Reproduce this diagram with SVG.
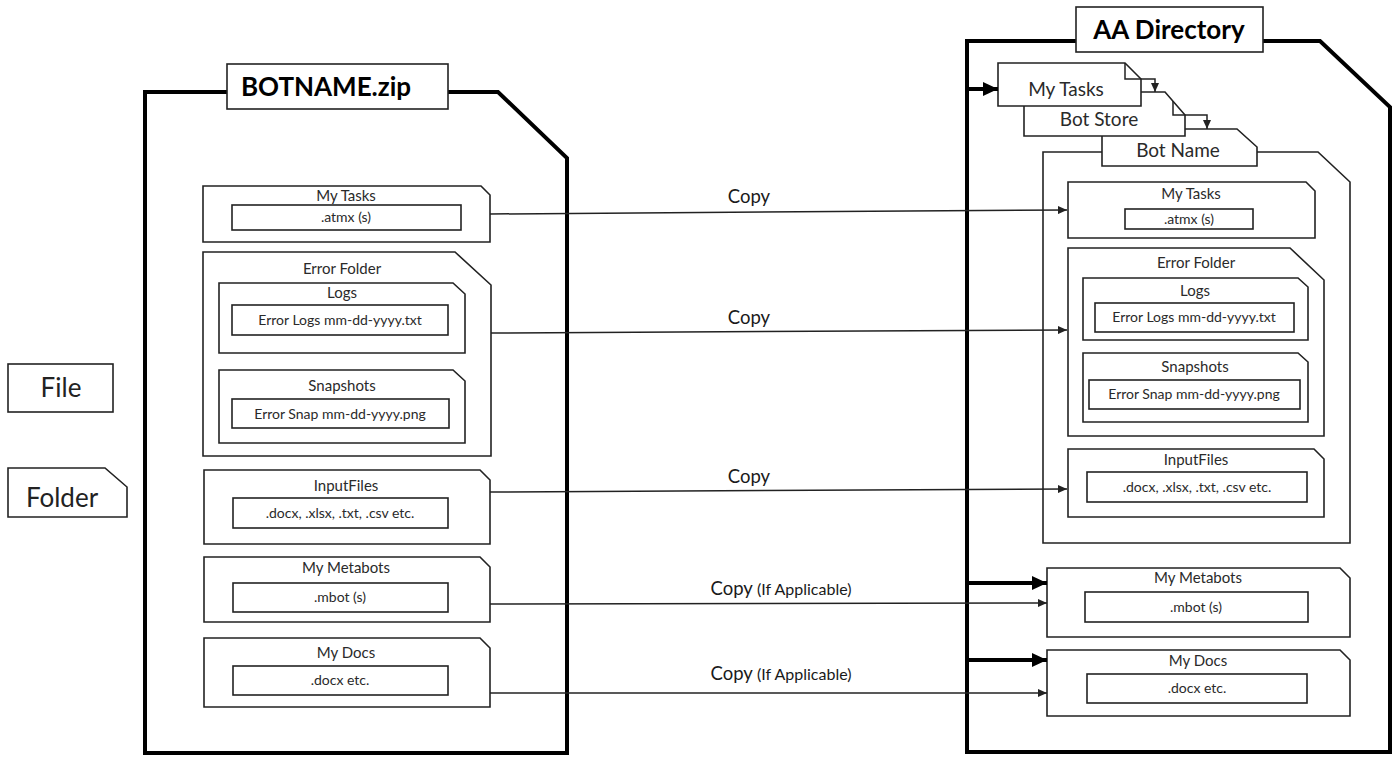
<svg xmlns="http://www.w3.org/2000/svg" width="1400" height="757" viewBox="0 0 1400 757">
<defs>
<style>
.big{fill:#fff;stroke:#000;stroke-width:4;stroke-linejoin:miter}
.fo{fill:#fff;stroke:#222;stroke-width:1.6}
.fi{fill:#fff;stroke:#222;stroke-width:1.6}
.ln{fill:none;stroke:#222;stroke-width:1.5}
.thk{fill:none;stroke:#000;stroke-width:4}
text{font-family:Lato,"Liberation Sans",sans-serif;fill:#2a2a2a;text-anchor:middle}
.t{font-size:15px}
.s{font-size:14px}
.st{font-size:19px}
.h{font-size:26px;font-weight:bold;fill:#000}
.lg{font-size:26px;fill:#222}
.cp{font-size:18.5px;fill:#1a1a1a}
.cps{font-size:16px}
</style>
<marker id="a" markerUnits="userSpaceOnUse" markerWidth="10" markerHeight="8" refX="9" refY="4" orient="auto"><path d="M0,0 L9,4 L0,8 Z" fill="#222"/></marker>
<marker id="ab" markerUnits="userSpaceOnUse" markerWidth="16" markerHeight="14" refX="15" refY="7" orient="auto"><path d="M0,0 L15,7 L0,14 Z" fill="#000"/></marker>
</defs>
<rect width="1400" height="757" fill="#fff"/>

<g id="legend-file"><rect class="fi" x="8" y="364" width="105" height="48"/><text class="lg" x="61" y="397">File</text></g>
<g id="legend-folder"><polygon class="fo" points="8,468 105,468 127,487 127,517 8,517"/><text class="lg" x="62" y="507">Folder</text></g>

<g id="botname-zip">
<path class="big" d="M145,753 V92 H498 L567,158 V753 Z"/>
<rect class="fi" x="227" y="64" width="221" height="45"/>
<text class="h" x="326" y="96">BOTNAME.zip</text>
</g>

<g id="l-mytasks">
<polygon class="fo" points="203,186 481,186 490,195 490,242 203,242"/>
<text class="t" x="346" y="201">My Tasks</text>
<rect class="fi" x="232" y="205" width="229" height="25"/>
<text class="s" x="346" y="222">.atmx (s)</text>
</g>

<g id="l-errorfolder">
<polygon class="fo" points="203,252 455,252 491,285 491,456 203,456"/>
<text class="t" x="342" y="274">Error Folder</text>
<polygon class="fo" points="219,283 453,283 465,294 465,353 219,353"/>
<text class="t" x="342" y="298">Logs</text>
<rect class="fi" x="232" y="305" width="216" height="30"/>
<text class="s" x="340" y="325">Error Logs mm-dd-yyyy.txt</text>
<polygon class="fo" points="219,370 453,370 465,381 465,443 219,443"/>
<text class="t" x="342" y="391">Snapshots</text>
<rect class="fi" x="232" y="399" width="217" height="29"/>
<text class="s" x="340" y="419">Error Snap mm-dd-yyyy.png</text>
</g>

<g id="l-inputfiles">
<polygon class="fo" points="204,470 480,470 490,480 490,544 204,544"/>
<text class="t" x="346" y="491">InputFiles</text>
<rect class="fi" x="233" y="498" width="215" height="30"/>
<text class="s" x="340" y="518">.docx, .xlsx, .txt, .csv etc.</text>
</g>

<g id="l-metabots">
<polygon class="fo" points="204,557 480,557 490,567 490,622 204,622"/>
<text class="t" x="346" y="573">My Metabots</text>
<rect class="fi" x="233" y="583" width="215" height="29"/>
<text class="s" x="340" y="602">.mbot (s)</text>
</g>

<g id="l-mydocs">
<polygon class="fo" points="204,638 480,638 490,648 490,707 204,707"/>
<text class="t" x="346" y="658">My Docs</text>
<rect class="fi" x="233" y="666" width="215" height="29"/>
<text class="s" x="340" y="685">.docx etc.</text>
</g>

<g id="aa-directory">
<path class="big" d="M967,752 V41 H1320 L1390,107 V752 Z"/>
<rect class="fi" x="1076" y="7" width="187" height="45"/>
<text class="h" x="1169" y="39">AA Directory</text>
</g>

<g id="r-botname-folder">
<polygon class="fo" points="1043,152 1318,152 1350,182 1350,543 1043,543"/>
</g>
<g id="r-botname">
<polygon class="fo" points="1102,129 1237,129 1257,147 1257,166 1102,166"/>
<text class="st" x="1178" y="157">Bot Name</text>
</g>
<g id="r-botstore">
<polygon class="fo" points="1024,92 1165,92 1185,115 1185,136 1024,136"/>
<path class="ln" d="M1173,101 V115 H1185"/>
<text class="st" x="1099" y="126">Bot Store</text>
</g>
<g id="r-mytasks-dir">
<polygon class="fo" points="998,63 1125,63 1141,79 1141,106 998,106"/>
<path class="ln" d="M1125,63 V79 H1141"/>
<text class="st" x="1066" y="96">My Tasks</text>
</g>

<g id="r-mytasks">
<polygon class="fo" points="1068,182 1306,182 1315,191 1315,238 1068,238"/>
<text class="t" x="1191" y="199">My Tasks</text>
<rect class="fi" x="1125" y="209" width="128" height="20"/>
<text class="s" x="1189" y="224">.atmx (s)</text>
</g>

<g id="r-errorfolder">
<polygon class="fo" points="1068,248 1290,248 1324,280 1324,436 1068,436"/>
<text class="t" x="1196" y="268">Error Folder</text>
<polygon class="fo" points="1083,278 1298,278 1308,287 1308,340 1083,340"/>
<text class="t" x="1195" y="296">Logs</text>
<rect class="fi" x="1095" y="303" width="199" height="29"/>
<text class="s" x="1194" y="322">Error Logs mm-dd-yyyy.txt</text>
<polygon class="fo" points="1083,353 1298,353 1308,362 1308,422 1083,422"/>
<text class="t" x="1195" y="372">Snapshots</text>
<rect class="fi" x="1089" y="380" width="211" height="29"/>
<text class="s" x="1194" y="399">Error Snap mm-dd-yyyy.png</text>
</g>

<g id="r-inputfiles">
<polygon class="fo" points="1068,449 1314,449 1324,459 1324,517 1068,517"/>
<text class="t" x="1196" y="465">InputFiles</text>
<rect class="fi" x="1087" y="472" width="220" height="30"/>
<text class="s" x="1197" y="492">.docx, .xlsx, .txt, .csv etc.</text>
</g>

<g id="r-metabots">
<polygon class="fo" points="1047,568 1340,568 1350,578 1350,637 1047,637"/>
<text class="t" x="1198" y="583">My Metabots</text>
<rect class="fi" x="1085" y="592" width="223" height="30"/>
<text class="s" x="1196" y="612">.mbot (s)</text>
</g>

<g id="r-mydocs">
<polygon class="fo" points="1047,650 1340,650 1350,660 1350,716 1047,716"/>
<text class="t" x="1198" y="666">My Docs</text>
<rect class="fi" x="1087" y="674" width="220" height="29"/>
<text class="s" x="1197" y="693">.docx etc.</text>
</g>

<g id="connectors">
<path class="ln" d="M490,214 L1067,210" marker-end="url(#a)"/>
<path class="ln" d="M491,333 L1067,330" marker-end="url(#a)"/>
<path class="ln" d="M490,492 L1067,489" marker-end="url(#a)"/>
<path class="ln" d="M490,604 L1047,603" marker-end="url(#a)"/>
<path class="ln" d="M490,693 L1047,693" marker-end="url(#a)"/>
<path class="ln" d="M1141,79 H1155 V92" marker-end="url(#a)"/>
<path class="ln" d="M1185,115 H1207 V129" marker-end="url(#a)"/>
<path class="thk" d="M968,89 H998" marker-end="url(#ab)"/>
<path class="thk" d="M968,583 H1047" marker-end="url(#ab)"/>
<path class="thk" d="M968,660 H1047" marker-end="url(#ab)"/>
<text class="cp" x="749" y="203">Copy</text>
<text class="cp" x="749" y="324">Copy</text>
<text class="cp" x="749" y="483">Copy</text>
<text class="cp" x="781" y="595">Copy <tspan class="cps">(If Applicable)</tspan></text>
<text class="cp" x="781" y="680">Copy <tspan class="cps">(If Applicable)</tspan></text>
</g>
</svg>
